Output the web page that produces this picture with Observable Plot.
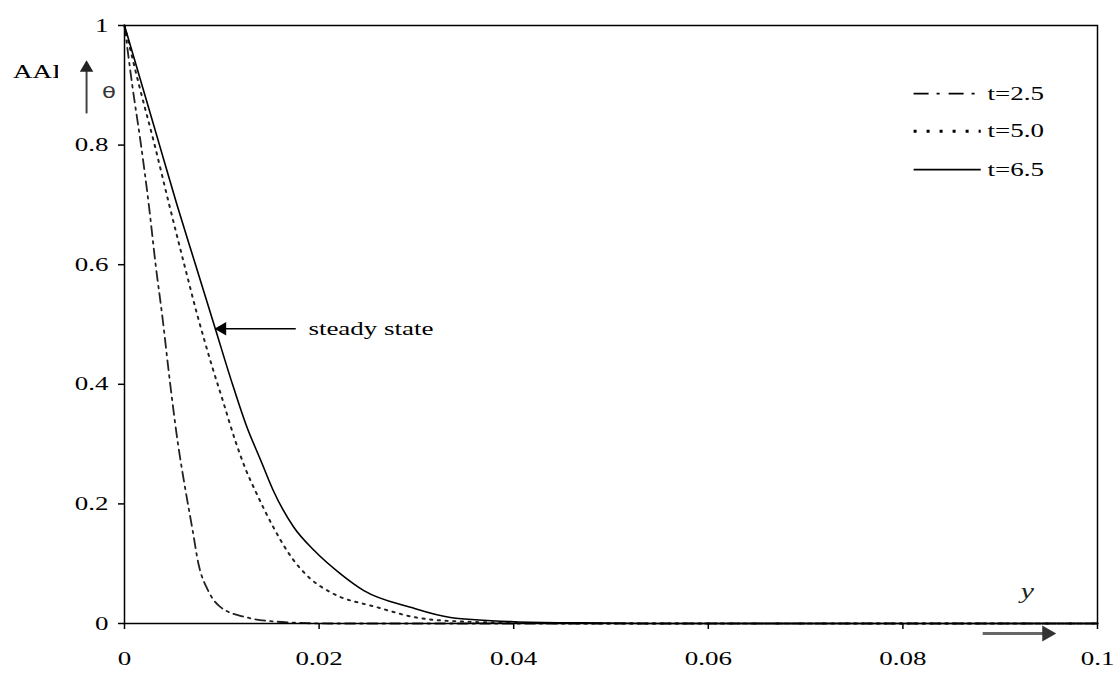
<!DOCTYPE html>
<html><head><meta charset="utf-8">
<script src="https://cdn.jsdelivr.net/npm/d3@7"></script>
<script src="https://cdn.jsdelivr.net/npm/@observablehq/plot@0.6"></script>
<style>body{margin:0;background:#fff}</style>
</head><body><div id="chart"></div>
<script>
// ---- data ----
const seriesNames = ["t=2.5", "t=5.0", "t=6.5"];
const y_t25 = [0, 0.0008, 0.0017, 0.0025, 0.0032, 0.0039, 0.0047, 0.0055, 0.0061, 0.0070, 0.0076, 0.0086, 0.0099, 0.0126, 0.0157, 0.018, 0.021, 0.1];
const th_t25 = [1, 0.9, 0.8, 0.7, 0.6, 0.512, 0.4, 0.3, 0.239, 0.156, 0.1, 0.055, 0.027, 0.01, 0.003, 0.001, 0, 0];
const y_t50 = [0, 0.0015, 0.0031, 0.0046, 0.0061, 0.0075, 0.0090, 0.0101, 0.0114, 0.0124, 0.0135, 0.0154, 0.0171, 0.0191, 0.0212, 0.026, 0.030, 0.035, 0.041, 0.048, 0.1];
const th_t50 = [1, 0.9, 0.8, 0.7, 0.603, 0.515, 0.43, 0.373, 0.305, 0.26, 0.22, 0.158, 0.112, 0.075, 0.052, 0.027, 0.01, 0.003, 0.001, 0, 0];
const y_t65 = [0, 0.0018, 0.0036, 0.0054, 0.0073, 0.0092, 0.0111, 0.0125, 0.0140, 0.0153, 0.0174, 0.0195, 0.0222, 0.0246, 0.0294, 0.0335, 0.040, 0.047, 0.055, 0.1];
const th_t65 = [1, 0.9, 0.8, 0.7, 0.6, 0.5, 0.4, 0.332, 0.273, 0.222, 0.161, 0.122, 0.083, 0.055, 0.027, 0.01, 0.003, 0.001, 0, 0];

const xTicks = [0, 0.02, 0.04, 0.06, 0.08, 0.1];
const xTickLabels = ["0", "0.02", "0.04", "0.06", "0.08", "0.1"];
const yTicks = [0, 0.2, 0.4, 0.6, 0.8, 1];
const yTickLabels = ["0", "0.2", "0.4", "0.6", "0.8", "1"];

// ---- build tables ----
const mk = (ys, ths) => ys.map((y, i) => ({y, theta: ths[i]}));
const series = [
  {name: seriesNames[0], data: mk(y_t25, th_t25), dash: "10,5,2.5,5", w: 1.8, color: "#222"},
  {name: seriesNames[1], data: mk(y_t50, th_t50), dash: "2.2,5.5", w: 2, color: "#222"},
  {name: seriesNames[2], data: mk(y_t65, th_t65), dash: null, w: 1.6, color: "#000"}
];

// layout constants (annotation placement)
const legendRows = [0.886, 0.823, 0.759];
const legendX1 = 0.0811, legendX2 = 0.0880, legendTextX = 0.0887;
const legendDash = ["15,8,3,9", "3,10", null];

const serif = "'Liberation Serif', 'Times New Roman', serif";
const FS = 19;

const marks = [];
for (const s of series) {
  marks.push(Plot.line(s.data, {x: "y", y: "theta", stroke: s.color, strokeWidth: s.w,
    strokeDasharray: s.dash, curve: "monotone-x"}));
}
marks.push(Plot.frame({stroke: "#000", strokeWidth: 1.5}));
marks.push(Plot.axisX({ticks: xTicks, tickFormat: (d, i) => xTickLabels[i], tickSize: 6, tickPadding: 22,
  fontSize: FS, fontFamily: serif, label: null, strokeWidth: 1.5}));
marks.push(Plot.axisY({ticks: yTicks, tickFormat: (d, i) => yTickLabels[i], tickSize: 6, tickPadding: 10,
  fontSize: FS, fontFamily: serif, label: null, strokeWidth: 1.5}));

// legend
legendRows.forEach((r, i) => {
  marks.push(Plot.link([0], {x1: legendX1, x2: legendX2, y1: r, y2: r, stroke: "#000",
    strokeWidth: i === 1 ? 3 : 1.8, strokeDasharray: legendDash[i]}));
  marks.push(Plot.text([seriesNames[i]], {x: legendTextX, y: r, text: d => d, textAnchor: "start",
    fontSize: FS, fontFamily: serif, fill: "#000"}));
});

// steady state annotation
marks.push(Plot.link([0], {x1: 0.0176, x2: 0.0102, y1: 0.493, y2: 0.493, stroke: "#000", strokeWidth: 1.6}));
marks.push(Plot.dot([0], {x: 0.01005, y: 0.493, symbol: "triangle", r: 5, fill: "#000", stroke: null, rotate: -90}));
marks.push(Plot.text(["steady state"], {x: 0.0189, y: 0.493, text: d => d, textAnchor: "start",
  fontSize: FS, fontFamily: serif, fill: "#000"}));

// theta arrow
marks.push(Plot.link([0], {x1: -0.0039, x2: -0.0039, y1: 0.853, y2: 0.925, stroke: "#444", strokeWidth: 2}));
marks.push(Plot.dot([0], {x: -0.0039, y: 0.929, symbol: "triangle", r: 5, fill: "#222", stroke: null}));
marks.push(Plot.text(["θ"], {x: -0.0016, y: 0.887, text: d => d, fontSize: 16,
  fontFamily: "'DejaVu Sans', sans-serif", fill: "#333"}));

// y axis name + arrow
marks.push(Plot.text(["y"], {x: 0.0928, y: 0.054, text: d => d, fontSize: 21, fontStyle: "italic",
  fontFamily: serif, fill: "#222"}));
marks.push(Plot.link([0], {x1: 0.0882, x2: 0.0945, y1: -0.0167, y2: -0.0167, stroke: "#666", strokeWidth: 3}));
marks.push(Plot.dot([0], {x: 0.0948, y: -0.0167, symbol: "triangle", r: 6, fill: "#333", stroke: null, rotate: 90}));

const svg = Plot.plot({
  width: 1116, height: 675,
  marginLeft: 124, marginRight: 19, marginTop: 25, marginBottom: 52,
  x: {domain: [0, 0.1], axis: null},
  y: {domain: [0, 1], axis: null},
  style: {background: "#fff", color: "#000"},
  marks
});
document.getElementById("chart").append(svg);

// "AAI" partially clipped label at top-left
const s = d3.select(svg);
s.append("defs").append("clipPath").attr("id", "aaiClip")
  .append("rect").attr("x", 0).attr("y", 40).attr("width", 58).attr("height", 60);
s.append("text").attr("x", 13).attr("y", 78).attr("clip-path", "url(#aaiClip)")
  .attr("text-anchor", "start")
  .attr("font-family", serif).attr("font-size", 19).attr("fill", "#000").text("AAI");

// horizontal stretch of text, as in the reference
const K = 1.42;
s.selectAll("text").each(function() {
  const w = this.getComputedTextLength();
  if (w > 0) {
    this.setAttribute("textLength", (w * K).toFixed(1));
    this.setAttribute("lengthAdjust", "spacingAndGlyphs");
  }
});
</script>
</body></html>
